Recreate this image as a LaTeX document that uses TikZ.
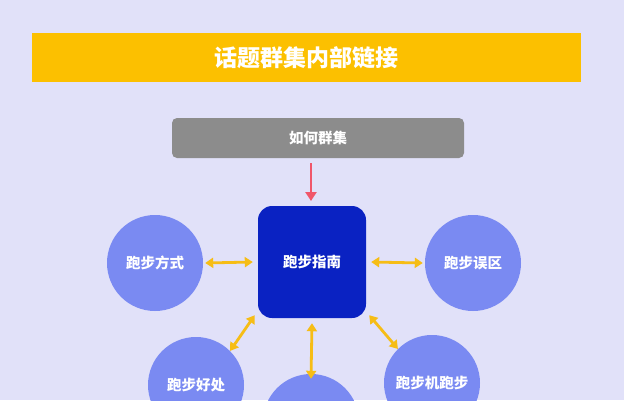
\documentclass[tikz,border=0pt]{standalone}
\usepackage{fontspec}
\newfontfamily\cjk{Noto Sans CJK SC}
\usetikzlibrary{arrows.meta}
\definecolor{bg}{HTML}{E1E1F9}
\definecolor{ttl}{HTML}{FCC000}
\definecolor{gry}{HTML}{8C8C8C}
\definecolor{dblue}{HTML}{0A22C2}
\definecolor{lblue}{HTML}{7A8AF2}
\definecolor{ylw}{HTML}{F6BD16}
\definecolor{rd}{HTML}{F0566A}
\tikzset{
 circ/.style={circle,fill=lblue,minimum size=96pt,inner sep=0pt,text=white,font=\cjk\bfseries\fontsize{14.5}{17}\selectfont},
 link/.style={draw=ylw,line width=2.8pt,{Triangle[length=8pt,width=10pt]}-{Triangle[length=8pt,width=10pt]}}
}
\begin{document}
\begin{tikzpicture}[x=1pt,y=-1pt]
\useasboundingbox[fill=bg] (0,0) rectangle (624,400);
\begin{scope}
\clip (0,0) rectangle (624,400);
\node[fill=ttl,minimum width=549pt,minimum height=49pt,inner sep=0pt,text=white,font=\cjk\bfseries\fontsize{23}{26}\selectfont] (title) at (306.5,57.5) {话题群集内部链接};
\node[fill=gry,rounded corners=5pt,minimum width=292pt,minimum height=40pt,inner sep=0pt,text=white,font=\cjk\bfseries\fontsize{14.5}{17}\selectfont] (how) at (318,138) {如何群集};
\node[fill=dblue,rounded corners=14pt,minimum width=108pt,minimum height=112pt,inner sep=0pt,text=white,font=\cjk\bfseries\fontsize{14.5}{17}\selectfont] (hub) at (312,262) {跑步指南};
\node[circ] (l) at (155,263) {跑步方式};
\node[circ] (r) at (473,263) {跑步误区};
\node[circ] (ll) at (196,385) {跑步好处};
\node[circ] (b) at (311,422) {};
\node[circ] (lr) at (432,383) {跑步机跑步};
\coordinate (a1) at (311,163);
\coordinate (a2) at (311,201);
\draw[draw=rd,line width=2.4pt,-{Triangle[length=9pt,width=11pt]}] (a1) -- (a2);
\draw[link] (l.east) ++(2,0) -- ([xshift=-5pt]hub.west);
\draw[link] ([xshift=5pt]hub.east) -- ([xshift=-2pt]r.west);
\draw[link] (ll.45) -- ([shift={(-3pt,3pt)}]hub.south west);
\draw[link] ([yshift=-5pt]hub.south) -- ([yshift=-5pt]b.north);
\draw[link] ([shift={(3pt,3pt)}]hub.south east) -- (lr.135);
\end{scope}
\end{tikzpicture}
\end{document}
